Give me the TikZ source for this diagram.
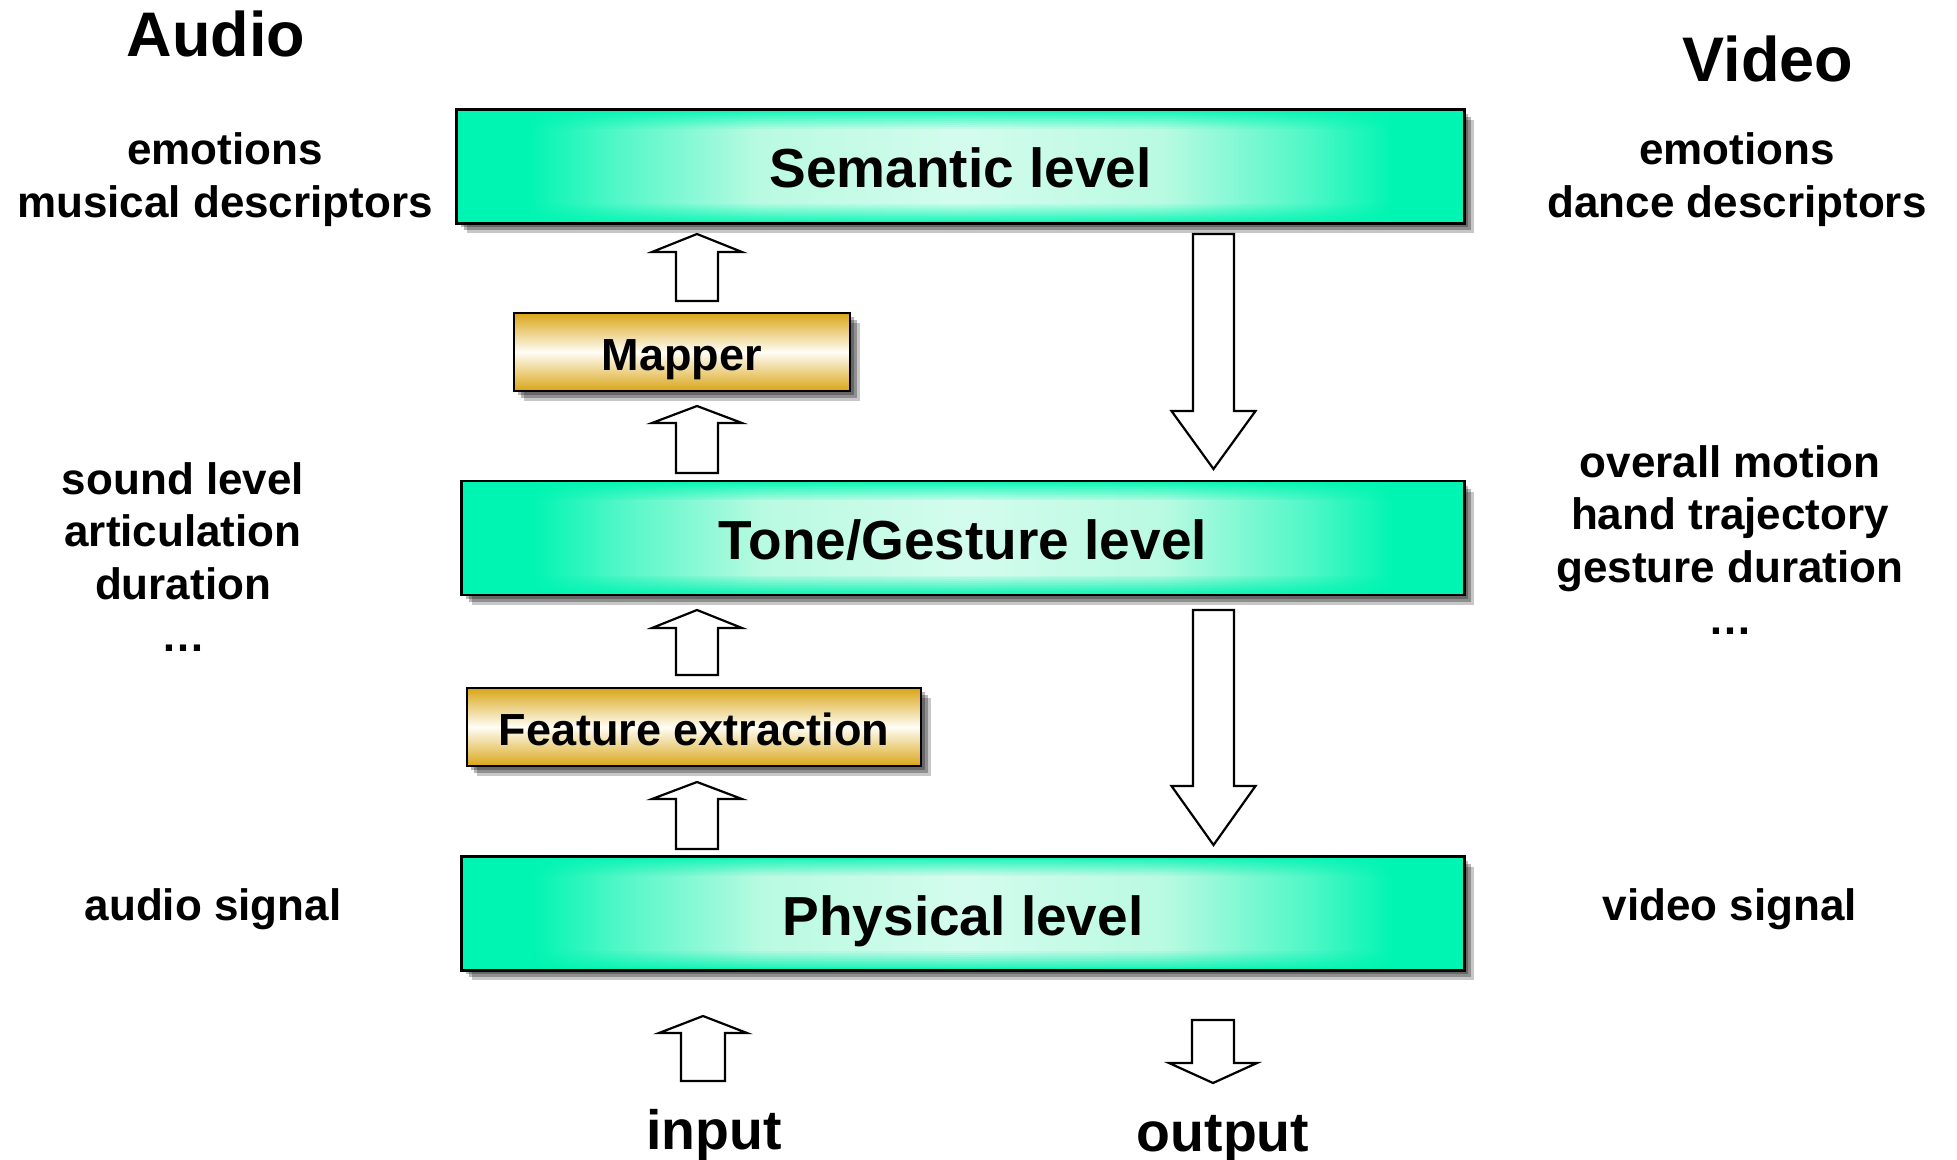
\documentclass[tikz,border=0pt]{standalone}
\usepackage{fontspec}
\setmainfont{Liberation Sans}
\usetikzlibrary{calc,shadows}
\definecolor{lvgreen}{RGB}{0,245,178}
\definecolor{lvpale}{RGB}{185,250,226}
\definecolor{lvcore}{RGB}{212,252,238}
\definecolor{mgold}{RGB}{217,165,22}
\definecolor{mcream}{RGB}{255,254,246}
% pgf maps the path bounding box to the 25bp..75bp part of a declared shading
\pgfdeclarehorizontalshading{lvh}{100bp}{color(0bp)=(lvgreen); color(25bp)=(lvgreen); color(28.5bp)=(lvgreen); color(33bp)=(lvgreen!55!lvpale); color(40bp)=(lvpale); color(50bp)=(lvcore); color(60bp)=(lvpale); color(67bp)=(lvgreen!55!lvpale); color(71.5bp)=(lvgreen); color(75bp)=(lvgreen); color(100bp)=(lvgreen)}
\pgfdeclareverticalshading{goldv}{100bp}{color(0bp)=(mgold); color(25bp)=(mgold); color(30bp)=(mgold!80!white); color(50bp)=(mcream); color(70bp)=(mgold!80!white); color(75bp)=(mgold); color(100bp)=(mgold)}
\tikzset{
  softshadow/.style={
    general shadow={fill=black,opacity=.28,shadow xshift=2pt,shadow yshift=-2pt},
    general shadow={fill=black,opacity=.28,shadow xshift=3.5pt,shadow yshift=-3.5pt},
    general shadow={fill=black,opacity=.22,shadow xshift=5pt,shadow yshift=-5pt}},
  levelbox/.style={softshadow, shade, shading=lvh,
    minimum width=#1, minimum height=56.5pt, inner sep=0pt,
    text height=21.5pt, text depth=0pt,
    font=\fontsize{27.5}{32}\selectfont\bfseries},
  goldbox/.style={softshadow, shade, shading=goldv, draw=black, line width=1.3pt,
    minimum width=#1, minimum height=39pt, inner sep=0pt,
    text height=18.6pt, text depth=0pt,
    font=\fontsize{22.5}{27}\selectfont\bfseries},
  boxline/.style={draw=black, line width=1.3pt},
  blockarr/.style={draw=black, fill=white, line width=1.1pt, line join=miter},
  sidetext/.style={align=center, inner sep=0pt, font=\fontsize{22}{26.2}\selectfont\bfseries},
  titletext/.style={inner sep=0pt, font=\fontsize{31.5}{36}\selectfont\bfseries},
  iotext/.style={inner sep=0pt, font=\fontsize{27.7}{32}\selectfont\bfseries}
}
% green glow along the top and bottom edges of a level box, then its outline
\newcommand{\greenframe}[1]{%
  \foreach \i in {0,...,9} {%
    \pgfmathsetmacro\op{0.92*(1-\i/10)}%
    \pgfmathsetmacro\ya{0.17*\i/10}%
    \pgfmathsetmacro\yb{0.17*(\i+1)/10}%
    \fill[lvgreen, fill opacity=\op] ($(#1.north west)!\ya!(#1.south west)$) rectangle ($(#1.north east)!\yb!(#1.south east)$);
    \fill[lvgreen, fill opacity=\op] ($(#1.south west)!\ya!(#1.north west)$) rectangle ($(#1.south east)!\yb!(#1.north east)$);
  }%
  \path[boxline] (#1.north west) rectangle (#1.south east);
}
\newcommand{\uparrowblk}[6]{% x, tip y, head base y, bottom y, shaft half, head half
  \draw[blockarr] ({#1-#5},#4) -- ({#1-#5},#3) -- ({#1-#6},#3) -- (#1,#2) -- ({#1+#6},#3) -- ({#1+#5},#3) -- ({#1+#5},#4) -- cycle;}
\newcommand{\downarrowblk}[6]{% x, top y, head base y, tip y, shaft half, head half
  \draw[blockarr] ({#1-#5},#2) -- ({#1-#5},#3) -- ({#1-#6},#3) -- (#1,#4) -- ({#1+#6},#3) -- ({#1+#5},#3) -- ({#1+#5},#2) -- cycle;}
\begin{document}
\begin{tikzpicture}[x=0.5pt,y=-0.5pt]
\useasboundingbox[fill=white] (0,0) rectangle (1957,1160);

% titles
\node[titletext] (audio) at (216,34) {Audio};
\node[titletext] (video) at (1768,59) {Video};

% level boxes
\node[levelbox=503.5pt] (sem) at (960.5,166.5) {Semantic level};
\node[levelbox=501pt] (tone) at (963,538) {Tone/Gesture level};
\node[levelbox=501pt] (phys) at (963,913.5) {Physical level};
\greenframe{sem}
\greenframe{tone}
\greenframe{phys}

% processing boxes
\node[goldbox=168pt] (mapper) at (682,352) {Mapper};
\node[goldbox=227pt] (feat) at (694,727) {Feature extraction};

% side texts
\node[sidetext] (asem) at (225,179.5) {emotions\\musical descriptors};
\node[sidetext] (vsem) at (1737,179.5) {emotions\\dance descriptors};
\node[sidetext] (atone) at (183,557) {sound level\\articulation\\duration\\…};
\node[sidetext] (vtone) at (1730,540) {overall motion\\hand trajectory\\gesture duration\\…};
\node[sidetext] (aphys) at (213,909) {audio signal};
\node[sidetext] (vphys) at (1730,909) {video signal};

% block arrows upward (analysis)
\uparrowblk{697}{234}{252}{301}{21}{45}
\uparrowblk{697}{406}{423}{473}{21}{45}
\uparrowblk{697}{610}{628}{675}{21}{45}
\uparrowblk{697}{782}{799}{849}{21}{45}

% block arrows downward (synthesis)
\downarrowblk{1213.5}{234}{411}{469}{20.5}{42}
\downarrowblk{1213.5}{610}{786}{845}{20.5}{42}

% input / output
\uparrowblk{703}{1016}{1033}{1081}{22}{44}
\downarrowblk{1213}{1020}{1063}{1083}{21}{44}
\node[iotext] (input) at (714,1135) {input};
\node[iotext] (output) at (1223,1139) {output};
\end{tikzpicture}
\end{document}
